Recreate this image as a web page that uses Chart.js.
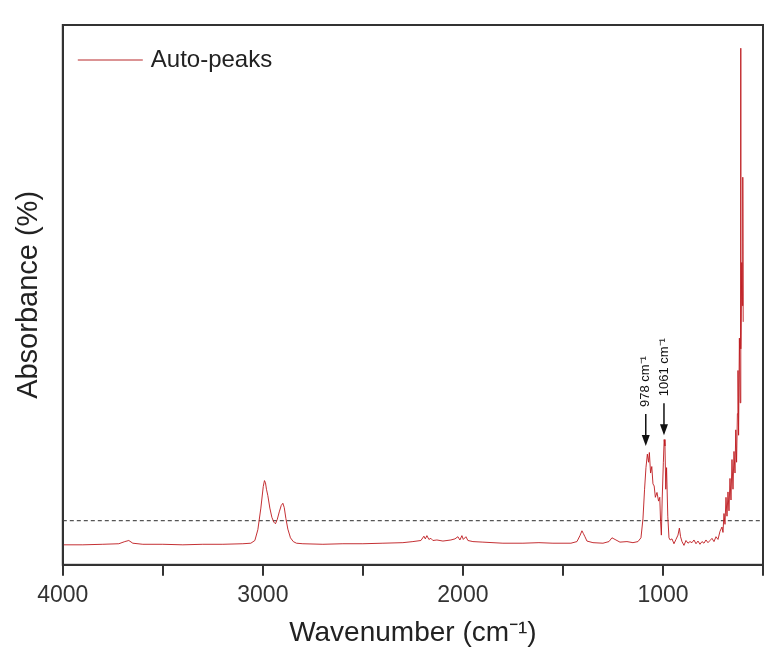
<!DOCTYPE html>
<html>
<head>
<meta charset="utf-8">
<script src="https://cdn.jsdelivr.net/npm/chart.js@4.4.1/dist/chart.umd.min.js"></script>
<style>
  body { margin: 0; background: #fff; }
  #wrap { width: 783px; height: 657px; }
</style>
</head>
<body>
<div id="wrap"><canvas id="spectrum"></canvas></div>
<script>
// wavenumber (cm-1) and absorbance (%)
const wavenumbers = [4000, 3900, 3800, 3720, 3690, 3670, 3650, 3600, 3500, 3400, 3300, 3200, 3100, 3060, 3040, 3025, 3010, 2998, 2992, 2987, 2982, 2975, 2965, 2955, 2945, 2937, 2928, 2918, 2908, 2900, 2893, 2885, 2875, 2862, 2848, 2832, 2800, 2700, 2600, 2500, 2400, 2300, 2250, 2210, 2195, 2188, 2180, 2170, 2160, 2150, 2130, 2100, 2060, 2040, 2025, 2015, 2005, 1998, 1985, 1975, 1950, 1900, 1800, 1700, 1620, 1550, 1460, 1430, 1415, 1405, 1398, 1390, 1380, 1350, 1300, 1270, 1255, 1245, 1235, 1215, 1180, 1150, 1125, 1110, 1100, 1092, 1085, 1078, 1072, 1068, 1062, 1056, 1050, 1044, 1038, 1030, 1022, 1016, 1012, 1008, 1004, 998, 994, 990, 986, 982, 976, 970, 964, 955, 945, 935, 925, 918, 912, 905, 895, 885, 875, 865, 855, 845, 835, 825, 815, 805, 795, 785, 775, 765, 755, 745, 735, 725, 715, 705, 700, 695, 690, 685, 680, 675, 670, 665, 660, 655, 650, 645, 640, 636, 632, 628, 625, 622, 618, 614, 612, 610, 606, 603, 601, 599];
const absorbance = [3.7, 3.7, 3.8, 3.9, 4.3, 4.5, 4.0, 3.8, 3.8, 3.7, 3.8, 3.8, 3.9, 4.0, 4.5, 6.5, 10.5, 14.5, 15.6, 15.2, 14.0, 12.8, 10.5, 8.8, 7.9, 7.6, 8.4, 9.8, 11.0, 11.4, 10.6, 8.6, 6.6, 5.0, 4.3, 4.0, 3.9, 3.8, 3.9, 3.9, 4.0, 4.1, 4.3, 4.5, 5.3, 4.8, 5.4, 4.7, 4.9, 4.5, 4.6, 4.4, 4.6, 4.8, 5.2, 4.6, 5.4, 4.7, 5.2, 4.5, 4.3, 4.2, 4.0, 4.0, 4.1, 4.0, 4.0, 4.3, 5.4, 6.3, 5.8, 5.2, 4.4, 4.1, 4.0, 4.3, 5.0, 4.8, 4.6, 4.2, 4.3, 4.1, 4.3, 5.0, 8.5, 14, 18, 20.5, 19, 20.8, 17, 18.2, 15, 14.6, 12.5, 13.4, 11.8, 12.5, 8, 5.5, 12, 19, 23.2, 22, 14, 18, 9, 5, 4.6, 4.8, 3.9, 4.7, 5.5, 6.8, 5.2, 4.3, 3.6, 4.5, 4.0, 4.3, 4.1, 4.6, 3.9, 4.4, 3.8, 4.3, 4.0, 4.6, 4.1, 4.5, 4.9, 4.3, 5.2, 4.7, 6.2, 7.0, 6.0, 9.5, 7.5, 12.5, 9.0, 13.5, 10, 16, 12, 19.5, 14, 21, 17, 25, 19, 28, 36, 24, 42, 30, 95.7, 40, 56, 48, 71.8, 45];
const dashedLevel = 8.2;
const xTicks = [4000, 3000, 2000, 1000];
const peakLabels = ['978 cm\u207B\u00B9', '1061 cm\u207B\u00B9'];
const peakArrowX = [1086, 995];
const peakArrowTip = [22, 24];

const spectrum = wavenumbers.map((w, i) => ({ x: w, y: absorbance[i] }));

const frameAndNotes = {
    id: 'frameAndNotes',
    afterDraw(chart) {
        const ctx = chart.ctx;
        const a = chart.chartArea;
        const xs = chart.scales.x, ys = chart.scales.y;
        ctx.save();
        // plot frame
        ctx.strokeStyle = '#333';
        ctx.lineWidth = 2;
        ctx.strokeRect(a.left, a.top, a.right - a.left, a.bottom - a.top);

        // legend box in the corner
        ctx.strokeStyle = '#b8282a';
        ctx.lineWidth = 1;
        ctx.beginPath();
        ctx.moveTo(a.left + 15, a.top + 35);
        ctx.lineTo(a.left + 80, a.top + 35);
        ctx.stroke();
        ctx.fillStyle = '#222';
        ctx.font = '24px "Liberation Sans", Arial, sans-serif';
        ctx.textBaseline = 'middle';
        ctx.fillText('Auto-peaks', a.left + 88, a.top + 35);

        // peak arrows + rotated labels
        ctx.strokeStyle = '#111';
        ctx.fillStyle = '#111';
        ctx.lineWidth = 1.5;
        peakArrowX.forEach((wn, i) => {
            const px = xs.getPixelForValue(wn);
            const tip = ys.getPixelForValue(peakArrowTip[i]);
            const top = tip - 32;
            ctx.beginPath();
            ctx.moveTo(px, top);
            ctx.lineTo(px, tip - 8);
            ctx.stroke();
            ctx.beginPath();
            ctx.moveTo(px - 4, tip - 11);
            ctx.lineTo(px + 4, tip - 11);
            ctx.lineTo(px, tip);
            ctx.closePath();
            ctx.fill();
            ctx.save();
            ctx.translate(px, top - 7);
            ctx.rotate(-Math.PI / 2);
            ctx.font = '13px "Liberation Sans", Arial, sans-serif';
            ctx.textAlign = 'left';
            ctx.textBaseline = 'middle';
            ctx.fillText(peakLabels[i], 0, 0);
            ctx.restore();
        });
        ctx.restore();
    }
};

new Chart(document.getElementById('spectrum').getContext('2d'), {
    type: 'scatter',
    data: {
        datasets: [{
            label: 'Auto-peaks',
            data: spectrum,
            showLine: true,
            borderColor: 'rgba(190, 25, 30, 0.9)',
            borderWidth: 1,
            pointRadius: 0,
            tension: 0
        }, {
            label: 'threshold',
            data: [{ x: 4000, y: dashedLevel }, { x: 500, y: dashedLevel }],
            showLine: true,
            borderColor: '#555',
            borderWidth: 1.2,
            borderDash: [4, 3],
            pointRadius: 0
        }]
    },
    options: {
        responsive: true,
        maintainAspectRatio: false,
        animation: false,
        layout: { padding: { left: 12, right: 20, top: 25, bottom: 7 } },
        plugins: {
            legend: { display: false },
            tooltip: { enabled: false }
        },
        scales: {
            x: {
                type: 'linear',
                reverse: true,
                min: 500,
                max: 4000,
                afterBuildTicks(scale) {
                    scale.ticks = [4000, 3500, 3000, 2500, 2000, 1500, 1000, 500].map(v => ({ value: v }));
                },
                ticks: {
                    autoSkip: false,
                    maxRotation: 0,
                    padding: 6,
                    color: '#333',
                    font: { family: '"Liberation Sans", Arial, sans-serif', size: 23 },
                    callback: v => xTicks.includes(v) ? String(v) : ''
                },
                grid: { drawOnChartArea: false, tickLength: 11, color: '#333', lineWidth: 2 },
                border: { color: '#333', width: 2 },
                title: {
                    display: true,
                    text: 'Wavenumber (cm\u207B\u00B9)',
                    color: '#222',
                    font: { family: '"Liberation Sans", Arial, sans-serif', size: 28 },
                    padding: { top: 1, bottom: 0 }
                }
            },
            y: {
                min: 0,
                max: 100,
                ticks: { display: false },
                grid: { display: false },
                border: { color: '#333', width: 2 },
                title: {
                    display: true,
                    text: 'Absorbance (%)',
                    color: '#222',
                    font: { family: '"Liberation Sans", Arial, sans-serif', size: 29 },
                    padding: { top: 0, bottom: 8 }
                }
            }
        }
    },
    plugins: [frameAndNotes]
});
</script>
</body>
</html>
